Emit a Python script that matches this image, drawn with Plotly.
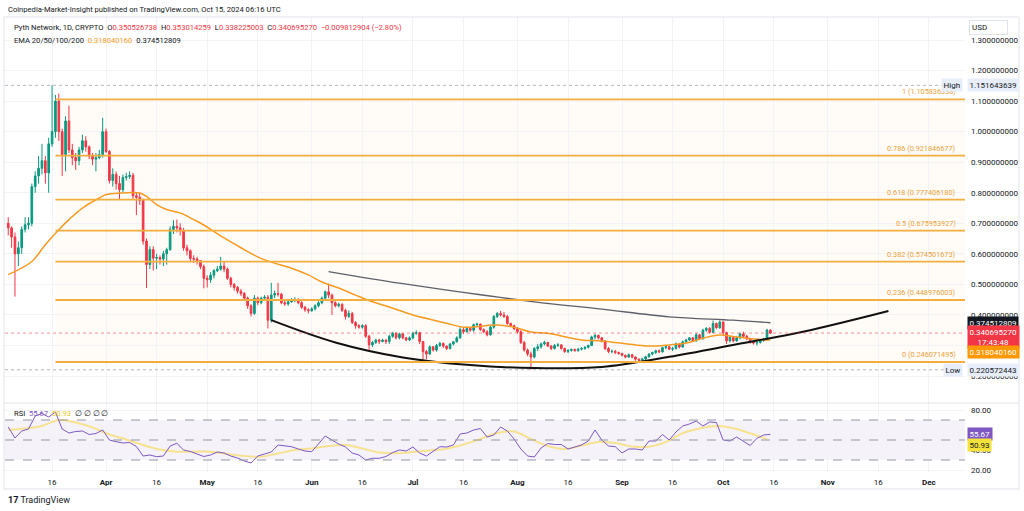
import plotly.graph_objects as go
from plotly.subplots import make_subplots
import pandas as pd

# ---------------- data ----------------
start_day = "2024-03-03"
first_open = 0.700

closes = [
    # Mar 3 - Mar 31
    0.685, 0.655, 0.600, 0.620, 0.680, 0.695, 0.700, 0.820, 0.855, 0.880, 0.905, 0.865, 0.960, 1.000, 1.100,
    1.000, 0.925, 1.035, 0.940, 0.915, 0.905, 0.940, 0.970, 0.950, 0.920, 0.910, 0.915, 0.925, 1.000,
    # Apr
    0.935, 0.840, 0.860, 0.830, 0.810, 0.850, 0.853, 0.857, 0.790, 0.785, 0.775, 0.642, 0.565, 0.614, 0.586,
    0.588, 0.583, 0.600, 0.614, 0.680, 0.690, 0.685, 0.675, 0.620, 0.610, 0.585, 0.583, 0.578, 0.558, 0.520,
    # May
    0.515, 0.530, 0.545, 0.550, 0.560, 0.550, 0.520, 0.500, 0.490, 0.478, 0.470, 0.455, 0.430, 0.405, 0.455,
    0.440, 0.455, 0.458, 0.383, 0.465, 0.470, 0.468, 0.440, 0.436, 0.443, 0.448, 0.450, 0.440, 0.425, 0.417, 0.414,
    # Jun
    0.420, 0.430, 0.440, 0.455, 0.476, 0.465, 0.440, 0.430, 0.435, 0.415, 0.395, 0.405, 0.375, 0.365, 0.360,
    0.365, 0.330, 0.302, 0.310, 0.318, 0.313, 0.318, 0.313, 0.330, 0.340, 0.325, 0.338, 0.325, 0.318, 0.325,
    # Jul
    0.340, 0.342, 0.313, 0.280, 0.272, 0.296, 0.285, 0.300, 0.307, 0.298, 0.290, 0.305, 0.312, 0.325, 0.352,
    0.345, 0.356, 0.350, 0.368, 0.370, 0.352, 0.345, 0.335, 0.360, 0.395, 0.405, 0.400, 0.395, 0.372, 0.365, 0.355,
    # Aug
    0.345, 0.310, 0.285, 0.272, 0.262, 0.290, 0.296, 0.305, 0.310, 0.298, 0.290, 0.300, 0.302, 0.290, 0.280,
    0.284, 0.287, 0.283, 0.288, 0.290, 0.294, 0.300, 0.328, 0.333, 0.325, 0.315, 0.290, 0.280, 0.281, 0.277, 0.274,
    # Sep
    0.268, 0.262, 0.270, 0.262, 0.255, 0.252, 0.256, 0.263, 0.272, 0.277, 0.283, 0.279, 0.293, 0.296, 0.288,
    0.290, 0.305, 0.295, 0.312, 0.318, 0.325, 0.315, 0.335, 0.322, 0.350, 0.356, 0.343, 0.372, 0.358, 0.377,
    # Oct 1 - Oct 15
    0.342, 0.315, 0.327, 0.315, 0.325, 0.338, 0.330, 0.322, 0.312, 0.308, 0.310, 0.318, 0.321, 0.350526738, 0.340695270,
]
highs = [
    0.72, 0.69, 0.67, 0.64, 0.69, 0.72, 0.72, 0.83, 0.87, 0.92, 0.96, 0.92, 0.98, 1.151643639, 1.12,
    1.125, 1.01, 1.05, 1.085, 0.96, 0.93, 0.95, 0.99, 0.985, 0.955, 0.93, 0.93, 0.94, 1.045,
    1.01, 0.94, 0.88, 0.87, 0.855, 0.86, 0.865, 0.87, 0.865, 0.80, 0.80, 0.78, 0.65, 0.625, 0.625,
    0.60, 0.595, 0.61, 0.62, 0.69, 0.71, 0.712, 0.70, 0.685, 0.63, 0.615, 0.595, 0.59, 0.58, 0.565,
    0.53, 0.54, 0.55, 0.56, 0.59, 0.575, 0.555, 0.525, 0.505, 0.495, 0.485, 0.475, 0.46, 0.435, 0.465,
    0.46, 0.46, 0.465, 0.465, 0.505, 0.48, 0.505, 0.472, 0.448, 0.45, 0.455, 0.458, 0.455, 0.445, 0.43, 0.422,
    0.425, 0.435, 0.445, 0.46, 0.48, 0.503, 0.47, 0.445, 0.44, 0.438, 0.42, 0.415, 0.41, 0.38, 0.37,
    0.37, 0.37, 0.335, 0.315, 0.322, 0.322, 0.322, 0.32, 0.335, 0.345, 0.342, 0.342, 0.34, 0.328, 0.33,
    0.345, 0.35, 0.345, 0.315, 0.285, 0.30, 0.298, 0.305, 0.312, 0.31, 0.30, 0.308, 0.315, 0.33, 0.36,
    0.358, 0.362, 0.36, 0.372, 0.375, 0.372, 0.356, 0.35, 0.365, 0.40, 0.41, 0.413, 0.41, 0.40, 0.375, 0.368,
    0.36, 0.35, 0.315, 0.29, 0.28, 0.295, 0.305, 0.31, 0.315, 0.312, 0.302, 0.305, 0.308, 0.305, 0.293,
    0.288, 0.29, 0.29, 0.292, 0.295, 0.298, 0.303, 0.332, 0.338, 0.336, 0.328, 0.318, 0.295, 0.287, 0.285, 0.28,
    0.276, 0.27, 0.274, 0.272, 0.265, 0.258, 0.26, 0.266, 0.275, 0.28, 0.286, 0.287, 0.296, 0.30, 0.298,
    0.295, 0.31, 0.308, 0.316, 0.322, 0.328, 0.328, 0.34, 0.338, 0.355, 0.36, 0.36, 0.382, 0.375, 0.382,
    0.38, 0.345, 0.33, 0.33, 0.33, 0.342, 0.345, 0.335, 0.325, 0.316, 0.315, 0.32, 0.325, 0.355, 0.353014259,
]
lows = [
    0.66, 0.62, 0.46, 0.56, 0.60, 0.67, 0.68, 0.69, 0.80, 0.83, 0.86, 0.83, 0.80, 0.95, 0.98,
    0.97, 0.855, 0.87, 0.93, 0.89, 0.875, 0.89, 0.93, 0.935, 0.91, 0.89, 0.87, 0.91, 0.915,
    0.93, 0.83, 0.82, 0.81, 0.776, 0.80, 0.84, 0.845, 0.78, 0.727, 0.76, 0.63, 0.488, 0.55, 0.545,
    0.55, 0.565, 0.56, 0.565, 0.61, 0.665, 0.67, 0.66, 0.61, 0.595, 0.575, 0.57, 0.565, 0.55, 0.487,
    0.49, 0.505, 0.52, 0.54, 0.545, 0.54, 0.515, 0.49, 0.48, 0.47, 0.462, 0.45, 0.42, 0.395, 0.40,
    0.432, 0.435, 0.45, 0.356, 0.375, 0.455, 0.46, 0.435, 0.43, 0.43, 0.44, 0.442, 0.435, 0.42, 0.41, 0.405,
    0.41, 0.415, 0.425, 0.435, 0.45, 0.455, 0.40, 0.425, 0.425, 0.41, 0.385, 0.39, 0.37, 0.355, 0.355,
    0.355, 0.325, 0.28, 0.295, 0.305, 0.305, 0.31, 0.305, 0.305, 0.325, 0.32, 0.32, 0.32, 0.315, 0.315,
    0.32, 0.335, 0.305, 0.247, 0.255, 0.27, 0.28, 0.28, 0.295, 0.292, 0.285, 0.287, 0.30, 0.31, 0.322,
    0.338, 0.342, 0.345, 0.345, 0.362, 0.348, 0.34, 0.33, 0.332, 0.355, 0.39, 0.395, 0.39, 0.368, 0.36, 0.35,
    0.34, 0.305, 0.28, 0.265, 0.220572443, 0.258, 0.282, 0.29, 0.30, 0.295, 0.285, 0.287, 0.295, 0.287, 0.276,
    0.275, 0.28, 0.28, 0.28, 0.284, 0.286, 0.29, 0.298, 0.32, 0.32, 0.31, 0.285, 0.275, 0.275, 0.272, 0.27,
    0.264, 0.258, 0.26, 0.258, 0.25, 0.245, 0.248, 0.252, 0.26, 0.268, 0.272, 0.275, 0.277, 0.288, 0.285,
    0.282, 0.287, 0.29, 0.293, 0.308, 0.315, 0.312, 0.313, 0.318, 0.32, 0.345, 0.34, 0.34, 0.355, 0.355,
    0.335, 0.305, 0.31, 0.31, 0.312, 0.32, 0.325, 0.318, 0.306, 0.303, 0.30, 0.306, 0.312, 0.318, 0.338225003,
]

# header values of the last bar
last_ohlc = [0.350526738, 0.353014259, 0.338225003, 0.340695270]
last_change = [-0.009812904, -2.80]
ema50_last = 0.318040160
ema200_last = 0.374512809
high_val = 1.151643639
low_val = 0.220572443

# EMA lines (sampled)
ema50_dates = ["2024-03-03", "2024-03-10", "2024-03-14", "2024-03-18", "2024-03-21", "2024-03-25",
               "2024-03-30", "2024-04-01", "2024-04-05", "2024-04-11", "2024-04-13", "2024-04-16",
               "2024-04-19", "2024-04-23", "2024-04-27", "2024-04-29", "2024-05-06", "2024-05-11",
               "2024-05-16", "2024-05-20", "2024-05-26", "2024-05-31", "2024-06-04", "2024-06-09",
               "2024-06-14", "2024-06-19", "2024-06-24", "2024-07-01", "2024-07-11", "2024-07-16",
               "2024-07-26", "2024-07-31", "2024-08-05", "2024-08-10", "2024-08-20", "2024-08-26",
               "2024-09-05", "2024-09-10", "2024-09-15", "2024-09-20", "2024-09-25", "2024-09-30",
               "2024-10-05", "2024-10-10", "2024-10-15"]
ema50_vals = [0.532, 0.575, 0.630, 0.679, 0.712, 0.750, 0.783, 0.794, 0.799, 0.799, 0.788, 0.761,
              0.745, 0.734, 0.712, 0.701, 0.652, 0.620, 0.590, 0.573, 0.553, 0.531, 0.508, 0.488,
              0.465, 0.443, 0.426, 0.400, 0.373, 0.360, 0.367, 0.360, 0.344, 0.340, 0.318, 0.315,
              0.302, 0.298, 0.302, 0.308, 0.324, 0.334, 0.328, 0.321, ema50_last]

ema200_dates = ["2024-06-06", "2024-06-27", "2024-07-17", "2024-08-06", "2024-08-26", "2024-09-15",
                "2024-10-04", "2024-10-15"]
ema200_vals = [0.542, 0.504, 0.472, 0.443, 0.419, 0.394, 0.383, ema200_last]

# hand-drawn rounded-bottom curve
curve_dates = ["2024-05-20", "2024-06-08", "2024-06-28", "2024-07-18", "2024-08-06", "2024-08-26",
               "2024-09-15", "2024-10-05", "2024-10-25", "2024-11-19"]
curve_vals = [0.383, 0.310, 0.261, 0.236, 0.226, 0.230, 0.263, 0.304, 0.346, 0.413]

# Fibonacci retracement
fib_ratios = [1, 0.786, 0.618, 0.5, 0.382, 0.236, 0]
fib_vals = [1.105836338, 0.921846677, 0.777406180, 0.675953927, 0.574501673, 0.448976003, 0.246071495]
fib_start = "2024-03-17"

# RSI (every 2 days from Mar 3) and its MA (every 5 days)
rsi_vals = [63, 52, 59, 61, 74, 76.5, 73, 78, 61, 57,
            58.5, 59, 55.5, 56.5, 60, 50, 48.3, 47, 47.5, 43.5,
            34, 35, 33.3, 34, 44, 46.7, 40, 38.5, 36, 33.5,
            35, 38, 37, 34, 32, 29, 27, 34, 36, 38,
            45, 44, 43.3, 41, 39, 38.3, 46, 54, 50, 46,
            43, 37, 35, 30, 31.7, 31.7, 33.5, 37.5, 40, 39,
            43, 37, 34, 38.3, 43.3, 43, 45, 56, 57, 60,
            61.5, 53, 55, 63, 59, 51, 41, 34, 33, 42,
            46.5, 45.5, 45.5, 41, 43.3, 45, 49, 60, 50, 44,
            43.3, 37, 41, 41, 40, 49, 49, 55.5, 50, 58,
            64, 66, 69, 64, 68, 67.5, 50, 49, 53, 49,
            44.5, 51.7, 55, 55.67]
rsi_ma_vals = [60, 61.5, 64, 70, 67.5, 62.5, 55.5, 50.5, 45, 40.5,
               38.3, 38.3, 38.3, 36, 34, 33.3, 36.5, 40, 41.5, 44,
               45, 41.5, 37.5, 36.7, 38, 39.5, 41.3, 45.5, 51, 57,
               58.5, 51, 44, 41, 44.5, 48, 47, 43.5, 43.3, 48,
               56.7, 61.5, 64, 61.7, 56.7, 50.93]
rsi_bands = [70, 50, 30]

# x tick labels
tick_dates = ["2024-03-16", "2024-04-01", "2024-04-16", "2024-05-01", "2024-05-16", "2024-06-01",
              "2024-06-16", "2024-07-01", "2024-07-16", "2024-08-01", "2024-08-16", "2024-09-01",
              "2024-09-16", "2024-10-01", "2024-10-16", "2024-11-01", "2024-11-16", "2024-12-01"]
tick_text = ["16", "<b>Apr</b>", "16", "<b>May</b>", "16", "<b>Jun</b>", "16", "<b>Jul</b>", "16",
             "<b>Aug</b>", "16", "<b>Sep</b>", "16", "<b>Oct</b>", "16", "<b>Nov</b>", "16", "<b>Dec</b>"]
price_ticks = [0.2, 0.3, 0.4, 0.5, 0.6, 0.7, 0.8, 0.9, 1.0, 1.1, 1.2, 1.3]
rsi_ticks = [20, 40, 60, 80]

# ---------------- build ----------------
dates = pd.date_range(start_day, periods=len(closes), freq="D")
opens = [first_open] + closes[:-1]
highs = [max(h, o, c) for h, o, c in zip(highs, opens, closes)]
lows = [min(l, o, c) for l, o, c in zip(lows, opens, closes)]
rsi_dates = pd.date_range(start_day, periods=len(rsi_vals), freq="2D")
rsi_ma_dates = pd.date_range(start_day, periods=len(rsi_ma_vals), freq="5D")

UP = "#089981"
DOWN = "#f23645"
ORANGE = "#f59b23"
FIB = "#f2ae3e"
TXT = "#131722"
FONT = "Roboto, Arial, sans-serif"
HDR = 7.6  # legend/header text size

W, H = 1024, 511
ML, MR, MT, MB = 5, 59, 17, 39
PW, PH = W - ML - MR, H - MT - MB


def px_x(px):
    return (px - ML) / PW


def px_y(py):
    return (H - MB - py) / PH


fig = make_subplots(rows=2, cols=1, shared_xaxes=True, vertical_spacing=0, row_heights=[386, 69])

fig.add_trace(go.Candlestick(
    x=dates, open=opens, high=highs, low=lows, close=closes,
    increasing=dict(line=dict(color=UP, width=1), fillcolor=UP),
    decreasing=dict(line=dict(color=DOWN, width=1), fillcolor=DOWN),
    whiskerwidth=0, hoverinfo="skip", showlegend=False), row=1, col=1)

fig.add_trace(go.Scatter(x=ema50_dates, y=ema50_vals, mode="lines",
                         line=dict(color=ORANGE, width=1.5, shape="spline", smoothing=1),
                         hoverinfo="skip", showlegend=False), row=1, col=1)
fig.add_trace(go.Scatter(x=ema200_dates, y=ema200_vals, mode="lines",
                         line=dict(color="#5d606b", width=1.3, shape="spline", smoothing=1),
                         hoverinfo="skip", showlegend=False), row=1, col=1)
fig.add_trace(go.Scatter(x=curve_dates, y=curve_vals, mode="lines",
                         line=dict(color="#111111", width=2, shape="spline", smoothing=1),
                         hoverinfo="skip", showlegend=False), row=1, col=1)

fig.add_trace(go.Scatter(x=rsi_ma_dates, y=rsi_ma_vals, mode="lines",
                         line=dict(color="rgba(250,214,60,0.55)", width=2, shape="spline", smoothing=1),
                         hoverinfo="skip", showlegend=False), row=2, col=1)
fig.add_trace(go.Scatter(x=rsi_dates, y=rsi_vals, mode="lines",
                         line=dict(color="#7e57c2", width=1),
                         hoverinfo="skip", showlegend=False), row=2, col=1)

x_end = "2024-12-11 17:00"
x_start = "2024-03-02 01:00"

shapes = []
# fib background + levels
shapes.append(dict(type="rect", xref="x", yref="y", x0=fib_start, x1=x_end,
                   y0=min(fib_vals), y1=max(fib_vals), fillcolor="rgba(255,152,0,0.035)",
                   line=dict(width=0), layer="below"))
for v in fib_vals:
    shapes.append(dict(type="line", xref="x", yref="y", x0=fib_start, x1=x_end, y0=v, y1=v,
                       line=dict(color=FIB, width=1.8)))
# high / low / last price dotted lines
for v, c in [(high_val, "#b2b5be"), (low_val, "#b2b5be"), (last_ohlc[3], "rgba(242,54,69,0.55)")]:
    shapes.append(dict(type="line", xref="x domain", yref="y", x0=0, x1=1, y0=v, y1=v,
                       line=dict(color=c, width=1, dash="dot")))
# RSI band
shapes.append(dict(type="rect", xref="x2 domain", yref="y2", x0=0, x1=1, y0=rsi_bands[2], y1=rsi_bands[0],
                   fillcolor="rgba(126,87,194,0.08)", line=dict(width=0), layer="below"))
for v in rsi_bands:
    shapes.append(dict(type="line", xref="x2 domain", yref="y2", x0=0, x1=1, y0=v, y1=v,
                       line=dict(color="#9598a1", width=1, dash="dash")))
# pane separator and frame
sep = 69 / 455
shapes.append(dict(type="line", xref="paper", yref="paper", x0=px_x(4), x1=px_x(1019), y0=sep, y1=sep,
                   line=dict(color="#e0e3eb", width=1)))
shapes.append(dict(type="rect", xref="paper", yref="paper", x0=px_x(4), x1=px_x(1019),
                   y0=px_y(489), y1=px_y(17), line=dict(color="#e0e3eb", width=1)))

ann = []
# header
ann.append(dict(xref="paper", yref="paper", x=px_x(6), y=px_y(9), xanchor="left", yanchor="middle",
                text="Coinpedia-Market-Insight published on TradingView.com, Oct 15, 2024 06:16 UTC",
                showarrow=False, font=dict(size=HDR, color=TXT)))
red = lambda s: f"<span style='color:{DOWN}'>{s}</span>"
sp = "\u00a0\u00a0"
hdr = ("Pyth Network, 1D, CRYPTO" + sp + "O" + red(f"{last_ohlc[0]:.9f}") + sp + "H" + red(f"{last_ohlc[1]:.9f}")
       + sp + "L" + red(f"{last_ohlc[2]:.9f}") + sp + "C" + red(f"{last_ohlc[3]:.9f}") + sp
       + red(f"\u2212{abs(last_change[0]):.9f} (\u2212{abs(last_change[1]):.2f}%)"))
ann.append(dict(xref="paper", yref="paper", x=px_x(12), y=px_y(27), xanchor="left", yanchor="middle",
                text=hdr, showarrow=False, font=dict(size=HDR, color=TXT)))
hdr3 = ("EMA 20/50/100/200" + sp + f"<span style='color:{ORANGE}'>{ema50_last:.9f}</span>" + sp
        + f"{ema200_last:.9f}")
ann.append(dict(xref="paper", yref="paper", x=px_x(12), y=px_y(40), xanchor="left", yanchor="middle",
                text=hdr3, showarrow=False, font=dict(size=HDR, color=TXT)))
# RSI legend
rsi_leg = ("RSI" + sp + f"<span style='color:#7e57c2'>{rsi_vals[-1]:.2f}</span>" + sp
           + f"<span style='color:#e6c81e'>{rsi_ma_vals[-1]:.2f}</span>" + sp + "\u2205 \u2205 \u2205 \u2205")
ann.append(dict(xref="paper", yref="paper", x=px_x(12), y=px_y(413), xanchor="left", yanchor="middle",
                text=rsi_leg, showarrow=False, font=dict(size=HDR, color=TXT)))
# logo
ann.append(dict(xref="paper", yref="paper", x=px_x(6), y=px_y(500), xanchor="left", yanchor="middle",
                text="<b>17</b> TradingView", showarrow=False, font=dict(size=9, color=TXT)))
# USD label
ann.append(dict(xref="paper", yref="paper", x=px_x(969), y=px_y(27), xanchor="left", yanchor="middle",
                text="USD\u00a0\u00a0\u00a0\u00a0\u00a0\u00a0\u00a0\u00a0\u00a0", showarrow=False,
                font=dict(size=8, color=TXT), bgcolor="white", bordercolor="#e0e3eb", borderwidth=1,
                borderpad=2))

# fib labels
for r, v in zip(fib_ratios, fib_vals):
    ann.append(dict(xref="paper", yref="y", x=px_x(958), y=v, xanchor="right", yanchor="bottom",
                    yshift=1, text=f"{r:g} ({v:.9f})", showarrow=False,
                    font=dict(size=7.3, color="#e9a23b")))


def tag(y, text, bg, fg, yref="y", shift=0):
    ann.append(dict(xref="paper", yref=yref, x=1.002, y=y, xanchor="left", yanchor="middle",
                    yshift=shift, text=text, showarrow=False, bgcolor=bg, borderpad=1.5,
                    font=dict(size=8, color=fg)))


# High / Low tags
for v, name in [(high_val, "High"), (low_val, "Low")]:
    ann.append(dict(xref="paper", yref="y", x=0.998, y=v, xanchor="right", yanchor="middle",
                    text=name, showarrow=False, bgcolor="#e8eef9", borderpad=1.5,
                    font=dict(size=8, color=TXT)))
    tag(v, f"{v:.9f}", "#e8eef9", TXT)
tag(ema200_last, f"{ema200_last:.9f}", "#131722", "white")
tag(last_ohlc[3], f"{last_ohlc[3]:.9f}<br>17:43:48", DOWN, "white", shift=-4)
tag(ema50_last, f"{ema50_last:.9f}", "#ff9800", "white", shift=-12)
tag(rsi_vals[-1], f"{rsi_vals[-1]:.2f}", "#7e57c2", "white", yref="y2")
tag(rsi_ma_vals[-1], f"{rsi_ma_vals[-1]:.2f}", "#f5e33b", TXT, yref="y2", shift=-6)

fig.update_layout(
    width=W, height=H,
    margin=dict(l=ML, r=MR, t=MT, b=MB),
    paper_bgcolor="white", plot_bgcolor="white",
    font=dict(family=FONT, size=8, color=TXT),
    showlegend=False, hovermode=False,
    shapes=shapes, annotations=ann,
)
grid = "#f2f3f6"
fig.update_xaxes(range=[x_start, x_end], tickvals=tick_dates, ticktext=tick_text, showgrid=True,
                 gridcolor=grid, zeroline=False, showline=False, rangeslider_visible=False,
                 ticks="", tickfont=dict(size=8, color=TXT))
fig.update_xaxes(showticklabels=False, row=1, col=1)
fig.update_xaxes(showticklabels=True, ticklabelstandoff=4, row=2, col=1)
fig.update_yaxes(side="right", range=[0.1118, 1.3753], tickvals=price_ticks,
                 ticktext=[f"{v:.9f}" for v in price_ticks], showgrid=True, gridcolor=grid,
                 zeroline=False, ticks="", ticklabelstandoff=5, tickfont=dict(size=8, color=TXT),
                 row=1, col=1)
fig.update_yaxes(side="right", range=[18, 87], tickvals=rsi_ticks,
                 ticktext=[f"{v:.2f}" for v in rsi_ticks], showgrid=True, gridcolor=grid,
                 zeroline=False, ticks="", ticklabelstandoff=5, tickfont=dict(size=8, color=TXT),
                 row=2, col=1)

# page body has a default margin; drop it so the figure sits at the window origin
fig.write_html("out.html", config={"displayModeBar": False},
               post_script="document.body.style.margin='0';")
